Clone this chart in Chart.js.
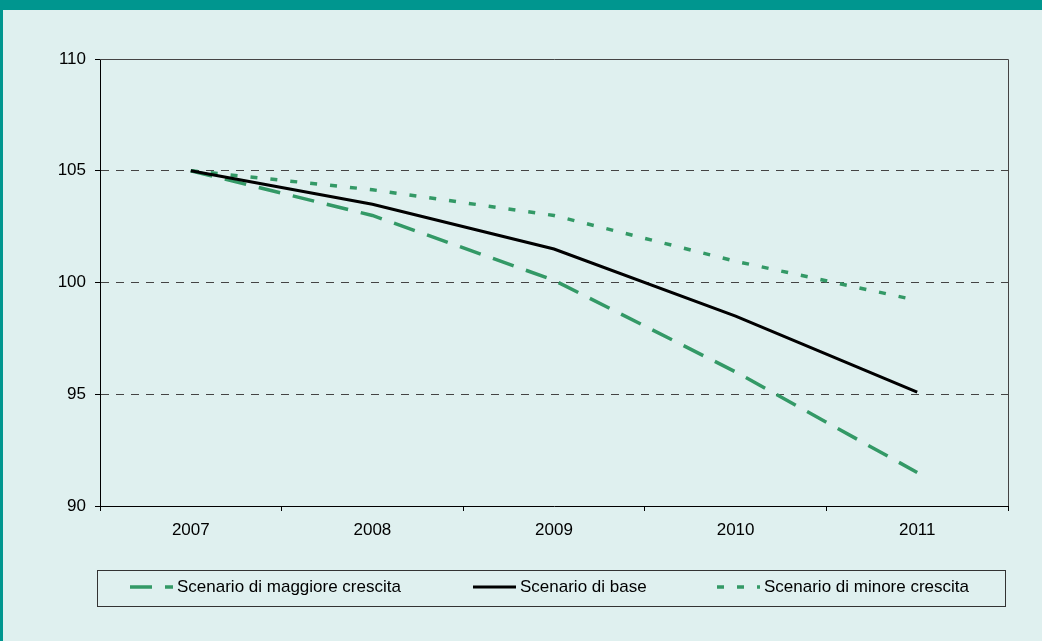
<!DOCTYPE html>
<html>
<head>
<meta charset="utf-8">
<script src="https://cdn.jsdelivr.net/npm/chart.js@4.4.1/dist/chart.umd.min.js"></script>
<style>
  body { margin: 0; background: #dff0ef; }
  #wrap { width: 1042px; height: 641px; }
</style>
</head>
<body>
<div id="wrap"><canvas id="scenarioChart" width="1042" height="641"></canvas></div>
<script>
const years = ['2007', '2008', '2009', '2010', '2011'];
const seriesNames = ['Scenario di maggiore crescita', 'Scenario di base', 'Scenario di minore crescita'];
const maggioreCrescita = [105, 103.0, 100.1, 96.0, 91.5];
const scenarioBase = [105, 103.5, 101.5, 98.5, 95.1];
const minoreCrescita = [105, 104.15, 103.0, 100.95, 99.2];
const yTicks = [90, 95, 100, 105, 110];

const GREEN = '#339966';
const FONT = "'Liberation Sans', Arial, sans-serif";

// Page frame: teal band on top and on the left edge
const framePlugin = {
    id: 'frame',
    beforeDraw(chart) {
        const ctx = chart.ctx;
        ctx.save();
        ctx.fillStyle = '#dff0ef';
        ctx.fillRect(0, 0, chart.width, chart.height);
        ctx.fillStyle = '#00968f';
        ctx.fillRect(0, 0, chart.width, 10);
        ctx.fillRect(0, 0, 3, chart.height);
        ctx.restore();
    },
    afterDatasetsDraw(chart) {
        // plot border
        const a = chart.chartArea;
        const ctx = chart.ctx;
        ctx.save();
        ctx.strokeStyle = '#444';
        ctx.lineWidth = 1;
        ctx.beginPath();
        ctx.moveTo(a.left, a.top + 0.5);
        ctx.lineTo(a.right + 0.5, a.top + 0.5);
        ctx.lineTo(a.right + 0.5, a.bottom);
        ctx.stroke();
        ctx.restore();
    }
};

// Boxed legend under the plot
const boxLegendPlugin = {
    id: 'boxLegend',
    afterDraw(chart) {
        const ctx = chart.ctx;
        const itemX = [130, 473, 717];
        const y = 587;
        ctx.save();
        ctx.strokeStyle = '#333';
        ctx.lineWidth = 1;
        ctx.strokeRect(97.5, 570.5, 908, 36);
        ctx.font = '17px ' + FONT;
        ctx.textBaseline = 'middle';
        ctx.fillStyle = '#000';
        chart.data.datasets.forEach((ds, i) => {
            const x = itemX[i];
            ctx.beginPath();
            ctx.strokeStyle = ds.borderColor;
            ctx.lineWidth = ds.borderWidth;
            ctx.setLineDash(ds.borderDash || []);
            ctx.moveTo(x, y);
            ctx.lineTo(x + 43, y);
            ctx.stroke();
            ctx.setLineDash([]);
            ctx.fillText(ds.label, x + 47, y);
        });
        ctx.restore();
    }
};

new Chart(document.getElementById('scenarioChart'), {
    type: 'line',
    data: {
        labels: years,
        datasets: [
            {
                label: seriesNames[0],
                data: maggioreCrescita,
                borderColor: GREEN,
                borderWidth: 3.5,
                borderDash: [22, 13],
                pointRadius: 0,
                order: 1
            },
            {
                label: seriesNames[1],
                data: scenarioBase,
                borderColor: '#000',
                borderWidth: 3,
                pointRadius: 0,
                order: 0
            },
            {
                label: seriesNames[2],
                data: minoreCrescita,
                borderColor: GREEN,
                borderWidth: 3.5,
                borderDash: [7, 13],
                pointRadius: 0,
                order: 2
            }
        ]
    },
    options: {
        responsive: false,
        animation: false,
        layout: { padding: { top: 59, right: 34, left: 0, bottom: 0 } },
        plugins: {
            legend: { display: false },
            tooltip: { enabled: false }
        },
        scales: {
            x: {
                offset: true,
                afterFit(scale) { scale.height = 135; },
                grid: {
                    offset: true,
                    drawOnChartArea: false,
                    tickLength: 5,
                    tickColor: '#000'
                },
                border: { color: '#000', width: 1 },
                ticks: { color: '#000', padding: 9, font: { family: FONT, size: 17 } }
            },
            y: {
                min: 90,
                max: 110,
                afterFit(scale) { scale.width = 100; },
                afterBuildTicks(scale) { scale.ticks = yTicks.map(v => ({ value: v })); },
                grid: {
                    color: ctx => (ctx.tick && (ctx.tick.value === 90 || ctx.tick.value === 110)) ? 'rgba(0,0,0,0)' : '#444',
                    lineWidth: 1,
                    tickLength: 5,
                    tickColor: '#000',
                    tickBorderDash: []
                },
                border: { color: '#000', width: 1, dash: [8, 7] },
                ticks: { color: '#000', padding: 9, font: { family: FONT, size: 17 } }
            }
        }
    },
    plugins: [framePlugin, boxLegendPlugin]
});
</script>
</body>
</html>
